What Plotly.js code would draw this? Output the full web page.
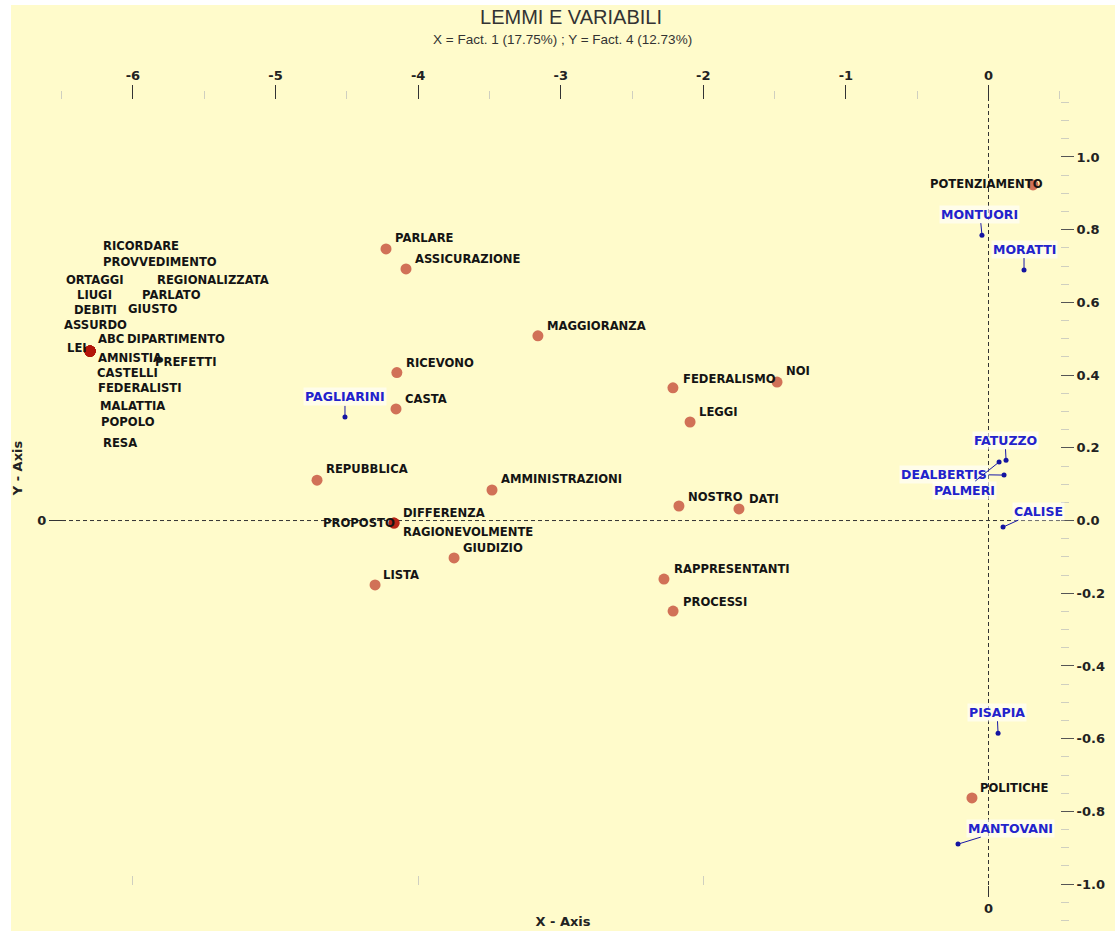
<!DOCTYPE html>
<html>
<head>
<meta charset="utf-8">
<script src="https://cdn.plot.ly/plotly-3.0.1.min.js"></script>
<style>
  html, body { margin: 0; padding: 0; background: #ffffff; }
  #chart { width: 1115px; height: 931px; }
</style>
</head>
<body>
<div id="chart"></div>
<script>
// ---------------- DATA ----------------
// Lemmi (red points)
var lemmi = ['POTENZIAMENTO','PARLARE','ASSICURAZIONE','MAGGIORANZA','RICEVONO','CASTA',
  'FEDERALISMO','NOI','LEGGI','REPUBBLICA','AMMINISTRAZIONI','NOSTRO','DATI',
  'PROPOSTO','DIFFERENZA','RAGIONEVOLMENTE','GIUDIZIO','LISTA','RAPPRESENTANTI','PROCESSI','POLITICHE',
  'RICORDARE','PROVVEDIMENTO','ORTAGGI','REGIONALIZZATA','LIUGI','PARLATO','DEBITI','GIUSTO',
  'ASSURDO','ABC','DIPARTIMENTO','LEI','AMNISTIA','PREFETTI','CASTELLI','FEDERALISTI',
  'MALATTIA','POPOLO','RESA'];
var lemmiX = [0.312,-4.225,-4.085,-3.160,-4.149,-4.155,
  -2.213,-1.483,-2.093,-4.709,-3.482,-2.171,-1.750,
  -4.169,-4.169,-4.169,-3.748,-4.302,-2.276,-2.212,-0.116,
  -6.301,-6.301,-6.301,-6.301,-6.301,-6.301,-6.301,-6.301,
  -6.301,-6.301,-6.301,-6.301,-6.301,-6.301,-6.301,-6.301,
  -6.301,-6.301,-6.301];
var lemmiY = [0.923,0.747,0.692,0.508,0.407,0.307,
  0.365,0.381,0.271,0.111,0.084,0.040,0.032,
  -0.007,-0.007,-0.007,-0.103,-0.177,-0.161,-0.249,-0.763,
  0.466,0.466,0.466,0.466,0.466,0.466,0.466,0.466,
  0.466,0.466,0.466,0.466,0.466,0.466,0.466,0.466,
  0.466,0.466,0.466];

// Variabili (blue points)
var variabili = ['PAGLIARINI','MONTUORI','MORATTI','FATUZZO','DEALBERTIS','PALMERI','CALISE','PISAPIA','MANTOVANI'];
var variabiliX = [-4.513,-0.046,0.249,0.123,0.109,0.074,0.102,0.067,-0.214];
var variabiliY = [0.285,0.785,0.689,0.166,0.125,0.161,-0.018,-0.585,-0.890];

// Tick labels
var xTickVals = [-6,-5,-4,-3,-2,-1,0];
var xTickText = ['-6','-5','-4','-3','-2','-1','0'];
var yTickVals = [1.0,0.8,0.6,0.4,0.2,0.0,-0.2,-0.4,-0.6,-0.8,-1.0];
var yTickText = ['1.0','0.8','0.6','0.4','0.2','0.0','-0.2','-0.4','-0.6','-0.8','-1.0'];
var zeroTickVals = [0];
var zeroTickText = ['0'];

var chartTitle = 'LEMMI E VARIABILI';
var chartSubtitle = 'X = Fact. 1 (17.75%) ; Y = Fact. 4 (12.73%)';
var xAxisTitle = 'X - Axis';
var yAxisTitle = 'Y - Axis';

// ---------------- LABEL PLACEMENT (pixel offsets, layout only) ----------------
var lemmiOffsets = [[-103,1],[9,11],[9,10],[9,10],[9,10],[9,10],
  [10,9],[9,11],[9,10],[9,11],[9,11],[9,9],[10,10],
  [-71,0],[9,10],[9,-9],[9,10],[8,10],[10,10],[10,9],[8,10],
  [13,105],[13,89],[-24,71],[67,71],[-13,56],[52,56],[-16,41],[38,42],
  [-26,26],[8,12],[37,12],[-23,3],[8,-7],[65,-11],[7,-22],[8,-37],
  [10,-55],[11,-71],[13,-92]];
var variabiliOffsets = [[0,-20],[-2,-21],[0,-21],[-1,-20],[-60,-1],[-35,28],[35,-16],[-1,-21],[52,-16]];

// ---------------- GEOMETRY ----------------
var W = 1115, H = 931;
var mL = 11, mR = 0, mT = 5, mB = 0;
var xRange = [-6.855, 0.887];
var yRange = [-1.129, 1.418];
var plotW = W - mL - mR, plotH = H - mT - mB;
function fx(px) { return (px - mL) / plotW; }
function fy(py) { return (H - mB - py) / plotH; }

// minor tick positions on the right axis (every 0.05 between -1.10 and 1.15)
var yMinorVals = [];
for (var k = -22; k <= 23; k++) { yMinorVals.push(k * 0.05); }

var labelFont = {family: 'DejaVu Sans, Verdana, sans-serif', size: 11.6, weight: 'bold', color: '#141414'};
var blueFont = {family: 'DejaVu Sans, Verdana, sans-serif', size: 12.5, weight: 'bold', color: '#2222cc'};
var tickFont = {family: 'DejaVu Sans, Verdana, sans-serif', size: 13, weight: 'bold', color: '#222222'};
var axisTitleFont = {family: 'DejaVu Sans, Verdana, sans-serif', size: 13, weight: 'bold', color: '#222222'};

// ---------------- TRACES ----------------
var traceLemmi = {
  type: 'scatter', mode: 'markers', x: lemmiX, y: lemmiY, text: lemmi,
  marker: {size: 11, color: 'rgb(178,22,10)', opacity: 0.6, line: {width: 0}},
  hoverinfo: 'text', showlegend: false
};
var traceVar = {
  type: 'scatter', mode: 'markers', x: variabiliX, y: variabiliY, text: variabili,
  marker: {size: 5, color: '#1414a0', line: {width: 0}},
  hoverinfo: 'text', showlegend: false
};
// empty trace so that the secondary (bottom / left) axes get drawn
var traceAxes = {
  type: 'scatter', mode: 'markers', x: [], y: [], xaxis: 'x2', yaxis: 'y2',
  hoverinfo: 'skip', showlegend: false
};

// ---------------- ANNOTATIONS ----------------
var annotations = [];
lemmi.forEach(function (name, i) {
  annotations.push({
    x: lemmiX[i], y: lemmiY[i], xref: 'x', yref: 'y',
    text: name, showarrow: false, xanchor: 'left', yanchor: 'middle',
    xshift: lemmiOffsets[i][0] - 2, yshift: lemmiOffsets[i][1],
    font: labelFont
  });
});
variabili.forEach(function (name, i) {
  annotations.push({
    x: variabiliX[i], y: variabiliY[i], xref: 'x', yref: 'y',
    text: name, showarrow: true, arrowhead: 0, arrowwidth: 1, arrowcolor: '#1818a8',
    ax: variabiliOffsets[i][0], ay: variabiliOffsets[i][1], standoff: 0,
    bgcolor: 'rgba(255,255,255,0.6)', borderpad: 1,
    font: blueFont
  });
});
// subtitle line under the main title
annotations.push({
  xref: 'paper', yref: 'paper', x: fx(562), y: fy(40), xanchor: 'center', yanchor: 'middle',
  text: chartSubtitle, showarrow: false,
  font: {family: 'Liberation Sans, Arial, sans-serif', size: 13.5, color: '#333333'}
});

// ---------------- LAYOUT ----------------
var layout = {
  width: W, height: H,
  margin: {l: mL, r: mR, t: mT, b: mB, pad: 0},
  paper_bgcolor: '#ffffff',
  plot_bgcolor: '#FFFBCB',
  title: {
    text: chartTitle,
    x: fx(571), xref: 'paper', xanchor: 'center',
    y: 1 - 17 / H, yref: 'container', yanchor: 'middle',
    font: {family: 'Liberation Sans, Arial, sans-serif', size: 20, color: '#333333'}
  },
  xaxis: {
    range: xRange, side: 'top', anchor: 'free', position: fy(99),
    showgrid: false, zeroline: false, showline: false,
    tickmode: 'array', tickvals: xTickVals, ticktext: xTickText,
    ticks: 'outside', ticklen: 14, tickwidth: 1, tickcolor: '#333333',
    tickfont: tickFont,
    minor: {tick0: -6.5, dtick: 0.5, ticks: 'outside', ticklen: 8, tickwidth: 1, tickcolor: '#cfcfc0', showgrid: false},
    fixedrange: true
  },
  xaxis2: {
    range: xRange, overlaying: 'x', side: 'bottom', anchor: 'free', position: fy(885),
    showgrid: false, zeroline: false, showline: false,
    tickmode: 'array', tickvals: zeroTickVals, ticktext: zeroTickText,
    ticks: 'outside', ticklen: 11, tickwidth: 1, tickcolor: '#333333',
    tickfont: tickFont,
    minor: {tickmode: 'array', tickvals: [-6, -4, -2], ticks: 'inside', ticklen: 9, tickwidth: 1, tickcolor: '#cfcfc0', showgrid: false},
    title: {text: xAxisTitle, font: axisTitleFont, standoff: 2},
    fixedrange: true
  },
  yaxis: {
    range: yRange, side: 'right', anchor: 'free', position: fx(1060),
    showgrid: false, zeroline: false, showline: false,
    tickmode: 'array', tickvals: yTickVals, ticktext: yTickText,
    ticks: 'outside', ticklen: 13, tickwidth: 1, tickcolor: '#555555',
    tickfont: tickFont,
    minor: {tickmode: 'array', tickvals: yMinorVals, ticks: 'outside', ticklen: 8, tickwidth: 1, tickcolor: '#cfcfc0', showgrid: false},
    fixedrange: true
  },
  yaxis2: {
    range: yRange, overlaying: 'y', side: 'left', anchor: 'free', position: fx(62),
    showgrid: false, zeroline: false, showline: false,
    tickmode: 'array', tickvals: zeroTickVals, ticktext: zeroTickText,
    ticks: 'outside', ticklen: 13, tickwidth: 1, tickcolor: '#333333',
    tickfont: tickFont,
    title: {text: yAxisTitle, font: axisTitleFont, standoff: 10},
    fixedrange: true
  },
  shapes: [
    {type: 'line', xref: 'paper', yref: 'y', x0: fx(62), x1: fx(1060), y0: 0, y1: 0,
     line: {color: '#333333', width: 1, dash: '4px,3px'}, layer: 'below'},
    {type: 'line', xref: 'x', yref: 'paper', x0: 0, x1: 0, y0: fy(885), y1: fy(99),
     line: {color: '#333333', width: 1, dash: '4px,3px'}, layer: 'below'}
  ],
  annotations: annotations,
  hovermode: false
};

Plotly.newPlot('chart', [traceLemmi, traceVar, traceAxes], layout, {displayModeBar: false, staticPlot: true});
</script>
</body>
</html>
